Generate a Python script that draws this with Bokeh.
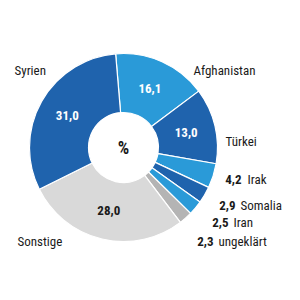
import numpy as np
from bokeh.plotting import figure
from bokeh.models import Range1d
from bokeh.core.properties import value
from bokeh.embed import file_html
from bokeh.resources import INLINE

# data (clockwise from top)
countries = ["Afghanistan", "Türkei", "Irak", "Somalia", "Iran", "ungeklärt", "Sonstige", "Syrien"]
shares = [16.1, 13.0, 4.2, 2.9, 2.5, 2.3, 28.0, 31.0]
value_labels = ["16,1", "13,0", "4,2", "2,9", "2,5", "2,3", "28,0", "31,0"]
colors = ["#2a9ad8", "#1f63ad", "#2a9ad8", "#1f63ad", "#2a9ad8", "#b4b4b4", "#d9d9d9", "#1f63ad"]

H = 300
cx, cy = 123, H - 147
r_in, r_out = 35, 94
start_deg = -4.8  # clockwise from 12 o'clock

p = figure(width=300, height=300, x_range=Range1d(0, 300), y_range=Range1d(0, 300),
           output_backend="svg", toolbar_location=None, min_border=0)
p.axis.visible = False
p.grid.visible = False
p.outline_line_color = None
p.background_fill_color = "white"

sh = np.array(shares)
cum = np.concatenate([[0], np.cumsum(sh)])
theta_a = start_deg + cum[:-1] / 100 * 360
theta_b = start_deg + cum[1:] / 100 * 360
start = np.radians(90 - theta_b)
end = np.radians(90 - theta_a)

p.annular_wedge(x=cx, y=cy, inner_radius=r_in, outer_radius=r_out,
                start_angle=start, end_angle=end, fill_color=colors,
                line_color="white", line_width=1.2)

FONT = value("Roboto Condensed, Roboto")
dark = "#1a1a1a"
FS = "13px"

# inside value labels for big slices
inside = [0, 1, 6, 7]
mid = np.radians((theta_a + theta_b) / 2)
rm = (r_in + r_out) / 2
ix = [cx + rm * np.sin(mid[i]) for i in inside]
iy = [cy + rm * np.cos(mid[i]) for i in inside]
itxt = [value_labels[i] for i in inside]
icol = ["white", "white", dark, "white"]
p.text(x=ix, y=iy, text=itxt, text_color=icol, text_font=FONT, text_font_style="bold",
       text_font_size=FS, text_align="center", text_baseline="middle")

# center
p.text(x=[cx], y=[cy], text=["%"], text_color=dark, text_font=FONT, text_font_style="bold",
       text_font_size="18px", text_align="center", text_baseline="middle")

# outside name labels
name_x = [193, 225, 247, 240, 233, 218, 17, 14]
name_y = [69.5, 141, 179, 205, 222, 240.5, 241, 69.5]
p.text(x=name_x, y=[H - v for v in name_y], text=countries, text_color=dark, text_font=FONT,
       text_font_size=FS, text_align="left", text_baseline="alphabetic")

# outside value labels for small slices
small = [2, 3, 4, 5]
vx = [241, 235, 228, 213]
p.text(x=vx, y=[H - name_y[i] for i in small], text=[value_labels[i] for i in small],
       text_color=dark, text_font=FONT, text_font_style="bold", text_font_size=FS,
       text_align="right", text_baseline="alphabetic")

open("out.html", "w").write(file_html(p, INLINE))
